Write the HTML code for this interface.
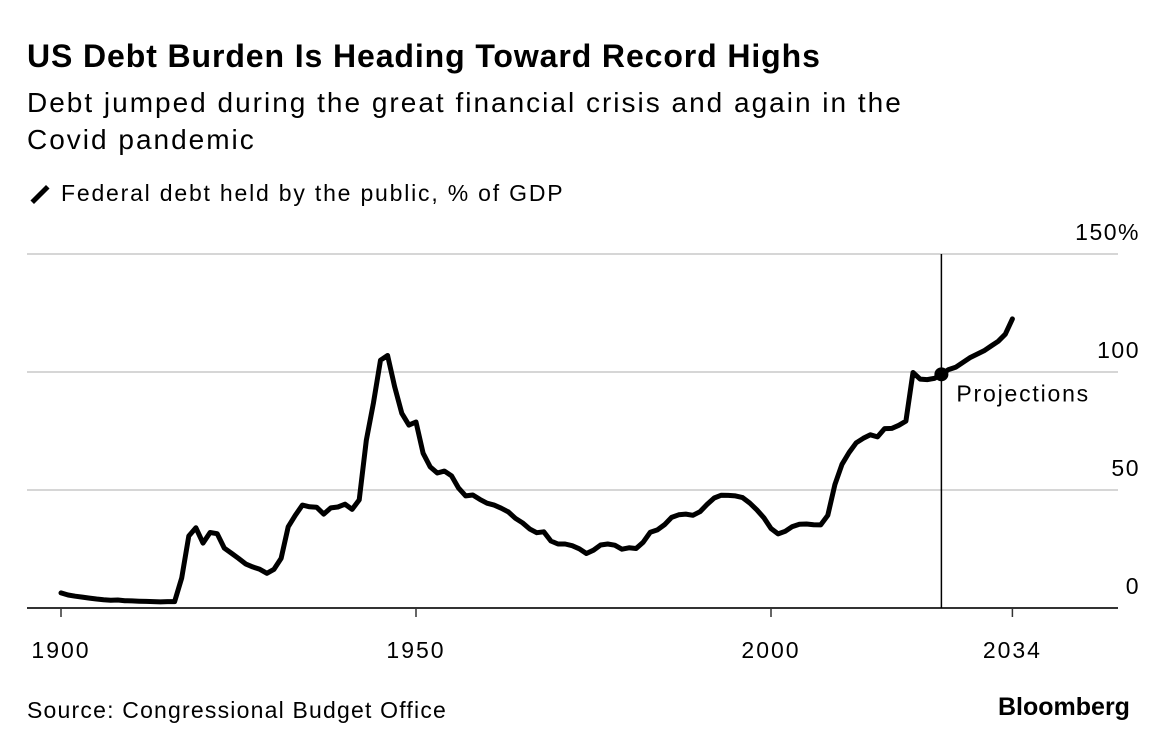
<!DOCTYPE html>
<html><head><meta charset="utf-8"><style>
body{margin:0;background:#fff;font-family:"Liberation Sans",Arial,sans-serif;color:#000}
#wrap{position:relative;width:1168px;height:750px;overflow:hidden}
.t{position:absolute;white-space:nowrap}
</style></head><body>
<div id="wrap">
<div class="t" style="left:27px;top:38px;font-size:32px;font-weight:bold;letter-spacing:0.9px">US Debt Burden Is Heading Toward Record Highs</div>
<div class="t" style="left:27px;top:84px;font-size:28px;line-height:37px;letter-spacing:2px">Debt jumped during the great financial crisis and again in the<br>Covid pandemic</div>
<div class="t" style="left:27px;top:180px;font-size:23px;letter-spacing:1.8px"><span style="display:inline-block;width:22px;height:5px;background:#000;transform:rotate(-45deg);vertical-align:middle;margin-right:10px;margin-left:2px"></span>Federal debt held by the public, % of GDP</div>
<svg id="chart" width="1168" height="750" style="position:absolute;left:0;top:0"></svg>
<div class="t" style="left:27px;top:697px;font-size:23px;letter-spacing:1.2px">Source: Congressional Budget Office</div>
<div class="t" style="left:998px;top:693px;font-size:25px;font-weight:bold;letter-spacing:0px">Bloomberg</div>
</div>
<script>
const years=[];for(let y=1900;y<=2034;y++)years.push(y);
const debt=[6.4,5.5,5,4.6,4.2,3.8,3.5,3.3,3.4,3.1,3,2.9,2.8,2.7,2.6,2.7,2.7,12.7,30.5,34,27.5,32,31.5,25.4,23.2,21,18.7,17.4,16.4,14.7,16.4,21,34.4,39.3,43.6,42.9,42.7,39.8,42.4,42.8,44,41.8,45.8,71,86.8,105,107,93.7,82.5,77.5,78.8,65.6,59.8,57.2,58,56,50.8,47.5,47.9,46,44.4,43.6,42.3,40.7,38,36.1,33.5,31.9,32.3,28.4,27.1,27.1,26.4,25.1,23.1,24.5,26.7,27.1,26.6,24.9,25.5,25.2,27.9,32.1,33.1,35.3,38.4,39.5,39.8,39.3,40.8,43.9,46.6,47.8,47.7,47.5,46.8,44.5,41.6,38.2,33.7,31.4,32.5,34.5,35.5,35.6,35.3,35.2,39.3,52.3,60.9,65.9,70,71.9,73.4,72.5,76,76.1,77.4,79.2,99.8,97,96.8,97.3,99,101,102,104,106,107.5,109,111,113,116,122.5];
const yTicks=[0,50,100,150];
const yTickLabels=["0","50","100","150%"];
const xTicks=[1900,1950,2000,2034];
const projYear=2024;
const NS="http://www.w3.org/2000/svg";
const svg=document.getElementById('chart');
const x=yr=>61+(yr-1900)*7.1;
const y=v=>608-v*2.36;
const FONT='Liberation Sans, Arial, sans-serif';
function el(t,a){const e=document.createElementNS(NS,t);for(const k in a)e.setAttribute(k,a[k]);svg.appendChild(e);return e;}
yTicks.forEach((v,i)=>{
 if(v>0){const g=el('line',{x1:27,x2:1118,y1:y(v),y2:y(v),stroke:'#d6d6d6','stroke-width':2});
 
 }
 const t=el('text',{x:1140,y:y(v)-14,'text-anchor':'end','font-size':23,'letter-spacing':1.5,'font-family':FONT});
 t.textContent=yTickLabels[i];
 
 
});
const base=el('line',{x1:27,x2:1118,y1:608,y2:608,stroke:'#333','stroke-width':2});


xTicks.forEach(yr=>{
 const l=el('line',{x1:x(yr),x2:x(yr),y1:608,y2:617,stroke:'#333','stroke-width':1.5});
 
 
 const t=el('text',{x:x(yr),y:658,'text-anchor':'middle','font-size':23,'letter-spacing':2,'font-family':FONT});
 t.textContent=yr;
 
 
});
const vl=el('line',{x1:x(projYear),x2:x(projYear),y1:254,y2:608,stroke:'#000','stroke-width':1.5});


const pts=years.map((yr,i)=>x(yr).toFixed(1)+','+y(debt[i]).toFixed(1)).join(' ');
const line=el('polyline',{points:pts,fill:'none',stroke:'#000','stroke-width':5,'stroke-linejoin':'round','stroke-linecap':'round'});


const pi=years.indexOf(projYear);
const dot=el('circle',{cx:x(projYear),cy:y(debt[pi]),r:7,fill:'#000'});


const pt=el('text',{x:x(projYear)+15,y:y(debt[pi])+27,'font-size':23,'letter-spacing':1.8,'font-family':FONT});
pt.textContent='Projections';


</script>
</body></html>
